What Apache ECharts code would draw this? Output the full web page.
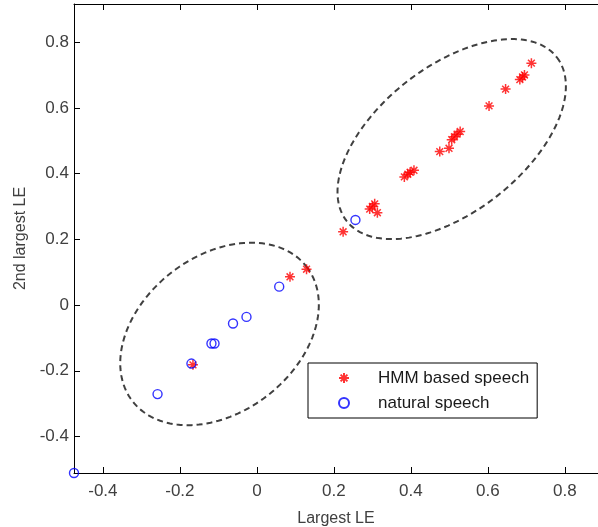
<!DOCTYPE html>
<html>
<head>
<meta charset="utf-8">
<script src="https://cdn.jsdelivr.net/npm/echarts@6/dist/echarts.min.js"></script>
<style>html,body{margin:0;padding:0;background:#fff}#c{width:598px;height:527px}</style>
</head>
<body>
<div id="c"></div>
<script>
// Data (Largest LE, 2nd largest LE)
var hmmLargest = [0.713, 0.683, 0.690, 0.695, 0.646, 0.603, 0.506, 0.513, 0.520, 0.528, 0.499, 0.475, 0.383, 0.392, 0.398, 0.408, 0.293, 0.300, 0.306, 0.313, 0.224, 0.129, 0.086, -0.166];
var hmmSecond  = [0.736, 0.686, 0.694, 0.700, 0.657, 0.606, 0.503, 0.512, 0.520, 0.528, 0.477, 0.467, 0.390, 0.398, 0.404, 0.410, 0.292, 0.300, 0.308, 0.281, 0.223, 0.109, 0.086, -0.182];
var natLargest = [0.256, 0.058, -0.027, -0.062, -0.118, -0.110, -0.170, -0.258, -0.475];
var natSecond  = [0.259, 0.056, -0.036, -0.056, -0.117, -0.117, -0.178, -0.271, -0.511];
var xTicks = [-0.4, -0.2, 0, 0.2, 0.4, 0.6, 0.8];
var yTicks = [-0.4, -0.2, 0, 0.2, 0.4, 0.6, 0.8];
// Cluster ellipses: center and two conjugate half-axis vectors (data units)
var ellipseCenters = [[0.506, 0.505], [-0.097, -0.088]];
var ellipseAxisA = [[0.273, 0.249], [0.2265, 0.204]];
var ellipseAxisB = [[0.116, -0.175], [0.1234, -0.1884]];

function pairs(xs, ys) { return xs.map(function (x, i) { return [x, ys[i]]; }); }

var starPath = 'path://M5,0L5,10M0,5L10,5M1.6,1.6L8.4,8.4M1.6,8.4L8.4,1.6';
var font = 'Liberation Sans, Arial, sans-serif';
var txt = '#404040';

var chart = echarts.init(document.getElementById('c'), null, {renderer: 'canvas'});
chart.setOption({
  animation: false,
  backgroundColor: '#fff',
  grid: {left: 74, right: 0, top: 4, bottom: 54, containLabel: false, outerBoundsMode: 'none'},
  xAxis: [{
    type: 'value', min: -0.475, max: 0.886, position: 'bottom',
    name: 'Largest LE', nameLocation: 'middle', nameGap: 38,
    nameTextStyle: {color: txt, fontSize: 16, fontFamily: font},
    axisLine: {show: true, onZero: false, lineStyle: {color: '#000', width: 1}},
    axisTick: {show: true, inside: true, length: 6, customValues: xTicks, lineStyle: {color: '#000'}},
    axisLabel: {show: true, customValues: xTicks, margin: 10, color: txt, fontSize: 17, fontFamily: font},
    splitLine: {show: false}
  }, {
    type: 'value', min: -0.475, max: 0.886, position: 'top',
    axisLine: {show: true, onZero: false, lineStyle: {color: '#000', width: 1}},
    axisTick: {show: true, inside: true, length: 6, customValues: xTicks, lineStyle: {color: '#000'}},
    axisLabel: {show: false},
    splitLine: {show: false}
  }],
  yAxis: [{
    type: 'value', min: -0.511, max: 0.916, position: 'left',
    name: '2nd largest LE', nameLocation: 'middle', nameGap: 42,
    nameTextStyle: {color: txt, fontSize: 16, fontFamily: font},
    axisLine: {show: true, onZero: false, lineStyle: {color: '#000', width: 1}},
    axisTick: {show: true, inside: true, length: 6, customValues: yTicks, lineStyle: {color: '#000'}},
    axisLabel: {show: true, customValues: yTicks, margin: 5, color: txt, fontSize: 17, fontFamily: font},
    splitLine: {show: false}
  }],
  legend: {
    orient: 'vertical', left: 308, top: 363,
    data: ['HMM based speech', 'natural speech'],
    itemWidth: 10, itemHeight: 10, itemGap: 5,
    padding: [5, 8, 5, 30],
    borderColor: '#000', borderWidth: 1, backgroundColor: '#fff',
    textStyle: {color: '#1a1a1a', fontSize: 17, fontFamily: font, lineHeight: 20, padding: [0, 0, 0, 24]}
  },
  series: [{
    type: 'custom', name: 'clusters', z: 1, silent: true, clip: false,
    data: ellipseCenters.map(function (c, i) { return [c[0], c[1], i]; }),
    renderItem: function (params, api) {
      var i = api.value(2);
      var c = ellipseCenters[i], a = ellipseAxisA[i], b = ellipseAxisB[i];
      var pts = [];
      for (var k = 0; k <= 160; k++) {
        var t = k / 160 * Math.PI * 2;
        pts.push(api.coord([c[0] + Math.cos(t) * a[0] + Math.sin(t) * b[0],
                            c[1] + Math.cos(t) * a[1] + Math.sin(t) * b[1]]));
      }
      return {type: 'polyline', shape: {points: pts},
              style: {stroke: '#404040', lineWidth: 2, lineDash: [6, 4], fill: null}};
    }
  }, {
    type: 'scatter', name: 'HMM based speech', z: 3, clip: false,
    data: pairs(hmmLargest, hmmSecond),
    symbol: starPath, symbolSize: 10,
    itemStyle: {color: 'rgba(0,0,0,0)', borderColor: '#ff0000', borderWidth: 1.5}
  }, {
    type: 'scatter', name: 'natural speech', z: 4, clip: false,
    data: pairs(natLargest, natSecond),
    symbol: 'circle', symbolSize: 9,
    itemStyle: {color: 'rgba(0,0,0,0)', borderColor: '#0000ff', borderWidth: 1.4}
  }]
});
</script>
</body>
</html>
